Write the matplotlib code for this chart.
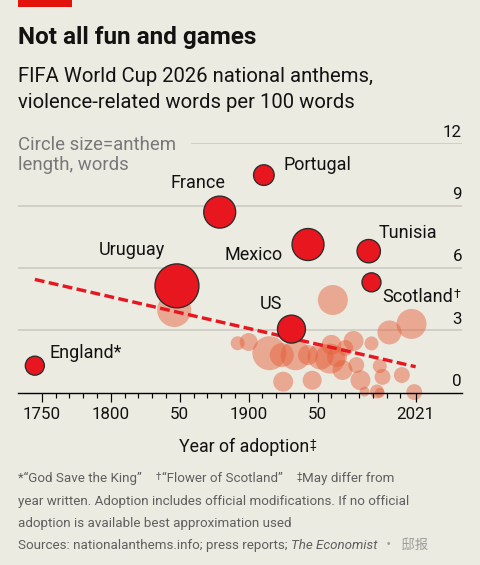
import numpy as np
import matplotlib
matplotlib.use("Agg")
import matplotlib.pyplot as plt
from matplotlib.patches import Rectangle

# ---------------- data ----------------
highlight_names = ["England", "Uruguay", "France", "Portugal", "US", "Mexico", "Tunisia", "Scotland"]
highlight_labels = ["England*", "Uruguay", "France", "Portugal", "US", "Mexico", "Tunisia", "Scotland"]
highlight_years = [1745, 1848, 1879, 1911, 1931, 1943, 1987, 1989]
highlight_values = [1.30, 5.14, 8.69, 10.47, 3.06, 7.13, 6.81, 5.31]
highlight_words = [63, 336, 178, 74, 136, 178, 95, 63]

other_years = [1846, 1892, 1900, 1915, 1924, 1925, 1934, 1943, 1946, 1952, 1959, 1960, 1961, 1964,
               1968, 1970, 1976, 1978, 1981, 1984, 1989, 1993, 1995, 1997, 1995, 2002, 2011, 2018, 2020]
other_values = [3.98, 2.38, 2.44, 1.90, 1.81, 0.53, 1.80, 1.81, 0.60, 1.74, 1.64, 2.30, 4.46, 1.72,
                1.09, 2.15, 2.49, 1.33, 0.60, 0.05, 2.37, 0.06, 1.28, 0.76, 0.0, 2.90, 0.85, 3.31, 0.03]
other_words = [201, 34, 56, 200, 100, 69, 156, 69, 63, 117, 156, 69, 156, 69,
               69, 44, 69, 44, 69, 17, 34, 34, 34, 44, 17, 100, 44, 156, 44]

trend_years = [1745, 2021]
trend_values = [5.45, 1.25]

y_ticks = [0, 3, 6, 9, 12]
x_major = [1750, 1800, 1850, 1900, 1950, 2021]
x_major_labels = ["1750", "1800", "50", "1900", "50", "2021"]
x_minor = [1760, 1770, 1780, 1790, 1810, 1820, 1830, 1840, 1860, 1870, 1880, 1890,
           1910, 1920, 1930, 1940, 1960, 1970, 1980, 1990, 2000, 2010]

# ---------------- style ----------------
plt.rcParams['font.family'] = ['Roboto', 'DejaVu Sans']
W, H, DPI = 480, 565, 100
PT = 72 / DPI
BG = '#ECEBE2'
RED = '#E8161F'
DARK = '#121212'
GREY = '#5E5E5E'


def fx(px):
    return px / W


def fy(py):
    return 1 - py / H


def area(words):
    return (2 * 1.2 * np.sqrt(np.asarray(words, dtype=float)) * PT) ** 2


fig = plt.figure(figsize=(W / DPI, H / DPI), dpi=DPI, facecolor=BG)

# red tag
fig.add_artist(Rectangle((fx(18), fy(7)), fx(72) - fx(18), fy(0) - fy(7),
                         transform=fig.transFigure, color='#E3120B', lw=0))

fig.text(fx(18), fy(44.3), "Not all fun and games", fontsize=17.5, fontweight='bold',
         color=DARK, va='baseline')
fig.text(fx(18), fy(81.7), "FIFA World Cup 2026 national anthems,", fontsize=14.6,
         color=DARK, va='baseline')
fig.text(fx(18), fy(108.3), "violence-related words per 100 words", fontsize=14.6,
         color=DARK, va='baseline')

ax = fig.add_axes([fx(18), fy(392.7), fx(462) - fx(18), fy(143.3) - fy(392.7)])
ax.set_facecolor('none')
ax.set_xlim(1732.8, 2054.6)
ax.set_ylim(0, 12)

for s in ['top', 'left', 'right']:
    ax.spines[s].set_visible(False)
ax.spines['bottom'].set_color('black')
ax.spines['bottom'].set_linewidth(1.4 * PT)
ax.spines['bottom'].set_zorder(6)

# gridlines
for v in y_ticks[1:]:
    xmin = (192 - 18) / 444 if v == 12 else 0
    ax.axhline(v, xmin=xmin, xmax=1, color='#C9C7BE', lw=1.5 * PT, zorder=1)

# y labels
for v in y_ticks:
    ax.annotate(str(v), xy=(1, v), xycoords=('axes fraction', 'data'),
                xytext=(0, 6.7 * PT), textcoords='offset points',
                ha='right', va='baseline', fontsize=12.2, color=DARK)

ax.set_yticks([])
ax.set_xticks(x_major)
ax.set_xticklabels(x_major_labels)
ax.set_xticks(x_minor, minor=True)
ax.tick_params(axis='x', which='major', length=9 * PT, width=1.2 * PT, color='black',
               labelsize=12.2, labelcolor=DARK, pad=5 * PT)
ax.tick_params(axis='x', which='minor', length=4.5 * PT, width=1.2 * PT, color='black')
ax.xaxis.set_zorder(6)

# other anthems
ax.scatter(other_years, other_values, s=area(other_words), color='#E4603A', alpha=0.48,
           linewidths=0, zorder=2, clip_on=False)

# trend line
ax.plot(trend_years, trend_values, color=RED, lw=3.4 * PT, dashes=(2.9, 1.3),
        solid_capstyle='butt', dash_capstyle='butt', zorder=3, clip_on=False)

# highlighted anthems
ax.scatter(highlight_years, highlight_values, s=area(highlight_words), color=RED,
           edgecolors='#2A2A2A', linewidths=1.3 * PT, zorder=4, clip_on=False)

label_layout = {
    "England": (15, 7.4, 'left'),
    "Uruguay": (-11.7, 30.7, 'right'),
    "France": (5.7, 24, 'right'),
    "Portugal": (20, 5, 'left'),
    "US": (-9, 20, 'right'),
    "Mexico": (-25, -15.7, 'right'),
    "Tunisia": (10, 13.3, 'left'),
    "Scotland": (10.7, -19.4, 'left'),
}
for name, lab, xv, yv in zip(highlight_names, highlight_labels, highlight_years, highlight_values):
    dx, dy, ha = label_layout[name]
    t = ax.annotate(lab, xy=(xv, yv), xytext=(dx * PT, dy * PT), textcoords='offset points',
                    ha=ha, va='baseline', fontsize=13, color=DARK, zorder=7,
                    annotation_clip=False)
    if name == "Scotland":
        ax.annotate("\u2020", xy=(1, 1), xycoords=t, xytext=(0.5, 0), textcoords='offset points',
                    ha='left', va='top', fontsize=9, color=DARK, annotation_clip=False)

# circle size note
fig.text(fx(18), fy(150), "Circle size=anthem", fontsize=13.4, color='#787878', va='baseline')
fig.text(fx(18), fy(170), "length, words", fontsize=13.4, color='#787878', va='baseline')

# x axis title
xt = fig.text(fx(244), fy(451.7), "Year of adoption", fontsize=12.8, color=DARK,
              ha='center', va='baseline')
ax.annotate("\u2021", xy=(1, 1), xycoords=xt, xytext=(0.5, 0), textcoords='offset points',
            ha='left', va='top', fontsize=8.5, color=DARK, annotation_clip=False)

# footnotes
FS = 9.6
t1 = fig.text(fx(18), fy(482.3), "*\u201cGod Save the King\u201d", fontsize=FS, color=GREY,
              va='baseline')
d1 = ax.annotate("\u2020", xy=(1, 1), xycoords=t1, xytext=(14 * PT, 0), textcoords='offset points',
                 ha='left', va='top', fontsize=7, color=GREY, annotation_clip=False)
t2 = ax.annotate("\u201cFlower of Scotland\u201d", xy=(1, 0), xycoords=(d1, t1), xytext=(0.3, 0),
                 textcoords='offset points', ha='left', va='bottom', fontsize=FS, color=GREY,
                 annotation_clip=False)
d2 = ax.annotate("\u2021", xy=(1, 1), xycoords=t2, xytext=(14 * PT, 0), textcoords='offset points',
                 ha='left', va='top', fontsize=7, color=GREY, annotation_clip=False)
ax.annotate("May differ from", xy=(1, 0), xycoords=(d2, t2), xytext=(0.3, 0),
            textcoords='offset points', ha='left', va='bottom', fontsize=FS, color=GREY,
            annotation_clip=False)
fig.text(fx(18), fy(505), "year written. Adoption includes official modifications. If no official",
         fontsize=FS, color=GREY, va='baseline')
fig.text(fx(18), fy(527.3), "adoption is available best approximation used",
         fontsize=FS, color=GREY, va='baseline')
s1 = fig.text(fx(18), fy(549.3), "Sources: nationalanthems.info; press reports; ",
              fontsize=FS, color=GREY, va='baseline')
s2 = ax.annotate("The Economist", xy=(1, 0), xycoords=s1, xytext=(0, 0), textcoords='offset points',
                 ha='left', va='bottom', fontsize=FS, color=GREY, style='italic',
                 annotation_clip=False)
ax.annotate("\u00b7  \u90b8\u62a5", xy=(1, 0), xycoords=s2, xytext=(5 * PT, 0),
            textcoords='offset points', ha='left', va='bottom', fontsize=FS, color='#9A9A9A',
            family=['Noto Sans CJK SC', 'DejaVu Sans'], annotation_clip=False)

fig.savefig("out.png", dpi=DPI, facecolor=BG)
